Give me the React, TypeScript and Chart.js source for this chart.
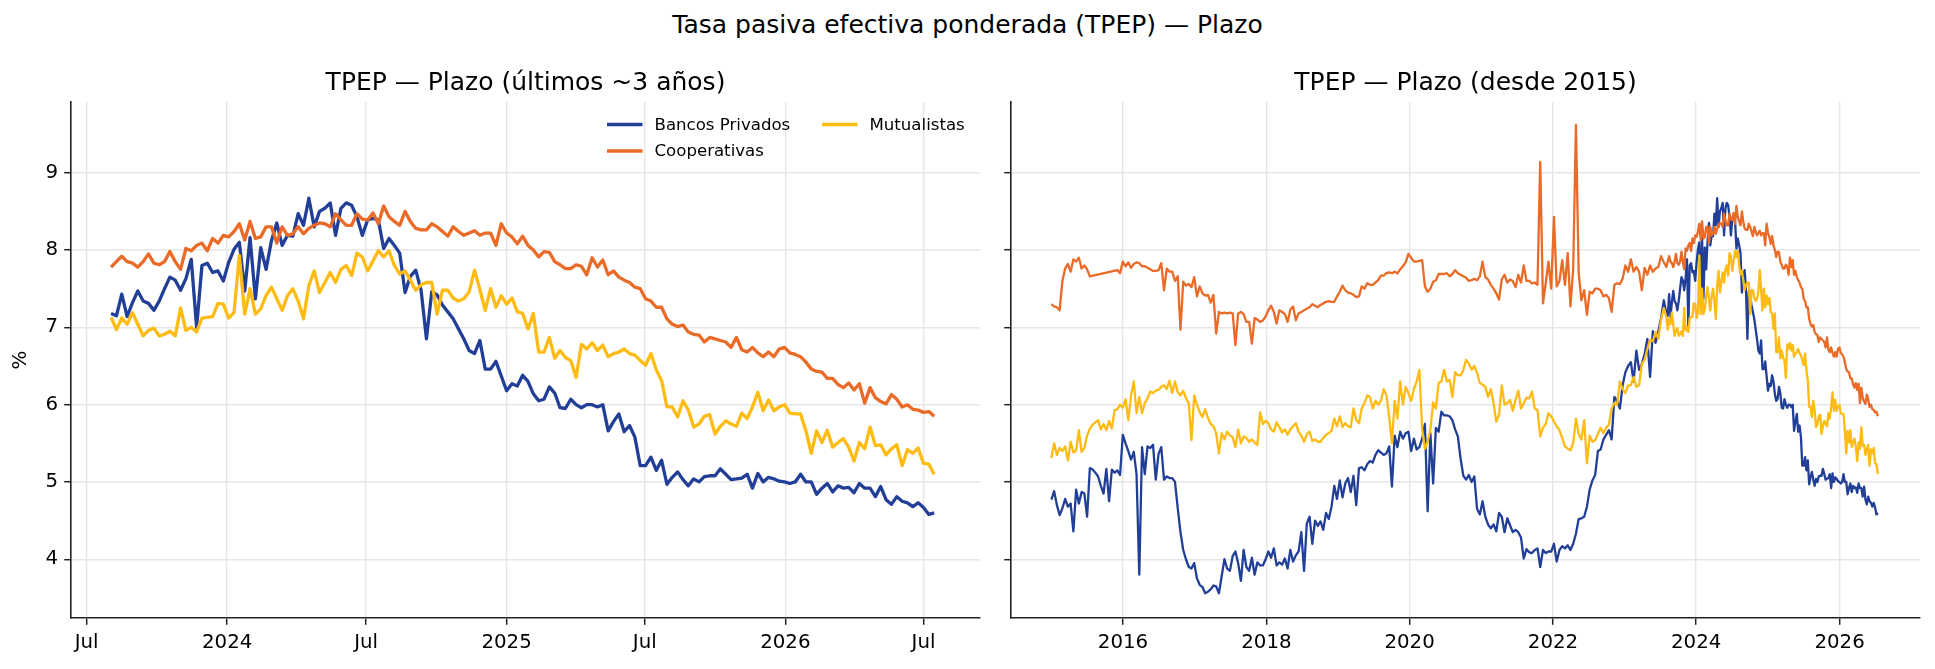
import { useEffect, useRef } from "react";
import { Chart, registerables } from "chart.js";

Chart.register(...registerables);

const FONT = '"DejaVu Sans", sans-serif';
const DAY_MS = 86400000;
const toDay = (y: number, m: number, d: number) => Date.UTC(y, m - 1, d) / DAY_MS;

// weekly readings, first one on 2023-08-02 (used in both panels)
const recentStart = toDay(2023, 8, 2);
const bancosRecent = [
  7.18, 7.15, 7.43, 7.14, 7.32, 7.47, 7.34, 7.31, 7.22, 7.34,
  7.5, 7.65, 7.61, 7.48, 7.63, 7.88, 7.0, 7.8, 7.83, 7.71,
  7.73, 7.6, 7.84, 8.01, 8.1, 7.47, 8.16, 7.37, 8.03, 7.75,
  8.12, 8.35, 8.06, 8.19, 8.18, 8.47, 8.32, 8.67, 8.3, 8.5,
  8.54, 8.61, 8.19, 8.54, 8.61, 8.58, 8.43, 8.19, 8.39, 8.41,
  8.39, 8.02, 8.15, 8.06, 7.96, 7.45, 7.66, 7.74, 7.48, 6.85,
  7.46, 7.42, 7.29, 7.2, 7.11, 6.98, 6.85, 6.7, 6.66, 6.83,
  6.46, 6.46, 6.56, 6.37, 6.18, 6.27, 6.24, 6.38, 6.3, 6.14,
  6.05, 6.07, 6.23, 6.15, 5.96, 5.95, 6.07, 6.0, 5.96, 6.0,
  6.0, 5.97, 6.0, 5.66, 5.78, 5.88, 5.65, 5.73, 5.58, 5.21,
  5.21, 5.32, 5.15, 5.28, 4.97, 5.06, 5.13, 5.03, 4.95, 5.04,
  5.0, 5.07, 5.08, 5.08, 5.17, 5.1, 5.03, 5.04, 5.05, 5.1,
  4.92, 5.11, 5.0, 5.06, 5.04, 5.01, 5.0, 4.98, 5.0, 5.1,
  5.0, 5.0, 4.84, 4.92, 4.98, 4.87, 4.95, 4.92, 4.93, 4.86,
  4.98, 4.92, 4.92, 4.81, 4.94, 4.77, 4.71, 4.81, 4.75, 4.73,
  4.68, 4.73, 4.67, 4.58, 4.6,
];
const coopRecent = [
  7.78, 7.85, 7.92, 7.85, 7.83, 7.78, 7.85, 7.95, 7.83, 7.81,
  7.85, 7.98, 7.85, 7.75, 8.02, 7.99, 8.06, 8.09, 7.99, 8.15,
  8.09, 8.19, 8.17, 8.24, 8.34, 8.13, 8.37, 8.15, 8.17, 8.3,
  8.3, 8.09, 8.3, 8.19, 8.21, 8.3, 8.21, 8.28, 8.32, 8.35,
  8.34, 8.3, 8.47, 8.39, 8.32, 8.32, 8.47, 8.4, 8.39, 8.48,
  8.34, 8.57, 8.43, 8.37, 8.32, 8.5, 8.37, 8.28, 8.26, 8.26,
  8.34, 8.3, 8.24, 8.18, 8.3, 8.24, 8.19, 8.22, 8.25, 8.19,
  8.22, 8.22, 8.06, 8.34, 8.22, 8.17, 8.08, 8.18, 8.06, 8.0,
  7.91, 7.98, 7.97, 7.85, 7.81, 7.76, 7.76, 7.81, 7.79, 7.68,
  7.9, 7.78, 7.87, 7.68, 7.73, 7.65, 7.61, 7.58, 7.52, 7.5,
  7.37, 7.34, 7.26, 7.26, 7.11, 7.04, 7.01, 7.03, 6.94, 6.91,
  6.9, 6.81, 6.87, 6.85, 6.83, 6.81, 6.74, 6.87, 6.71, 6.68,
  6.74, 6.67, 6.62, 6.68, 6.62, 6.72, 6.74, 6.67, 6.65, 6.62,
  6.55, 6.46, 6.43, 6.42, 6.34, 6.34, 6.26, 6.22, 6.28, 6.19,
  6.27, 6.02, 6.22, 6.09, 6.04, 6.01, 6.13, 6.07, 5.97, 6.0,
  5.94, 5.93, 5.9, 5.91, 5.85,
];
const mutualRecent = [
  7.13, 6.97, 7.12, 7.04, 7.19, 7.04, 6.89, 6.96, 6.99, 6.89,
  6.91, 6.95, 6.89, 7.25, 6.96, 7.0, 6.94, 7.12, 7.13, 7.14,
  7.31, 7.3, 7.12, 7.19, 7.93, 7.17, 7.5, 7.17, 7.24, 7.41,
  7.52, 7.37, 7.22, 7.41, 7.5, 7.34, 7.11, 7.54, 7.73, 7.45,
  7.58, 7.71, 7.58, 7.75, 7.8, 7.67, 7.96, 7.91, 7.73, 7.86,
  7.99, 7.91, 7.99, 7.8, 7.69, 7.73, 7.61, 7.48, 7.55, 7.58,
  7.58, 7.17, 7.48, 7.48, 7.38, 7.34, 7.37, 7.46, 7.74, 7.49,
  7.22, 7.5, 7.26, 7.41, 7.3, 7.38, 7.2, 7.18, 6.98, 7.18,
  6.68, 6.68, 6.87, 6.6, 6.7, 6.61, 6.57, 6.35, 6.78, 6.72,
  6.8, 6.7, 6.77, 6.62, 6.66, 6.68, 6.72, 6.66, 6.64, 6.57,
  6.51, 6.66, 6.45, 6.31, 5.97, 5.97, 5.84, 6.05, 5.93, 5.71,
  5.75, 5.85, 5.87, 5.62, 5.72, 5.79, 5.75, 5.72, 5.89, 5.82,
  5.97, 6.16, 5.92, 6.06, 5.92, 5.97, 6.0, 5.89, 5.88, 5.88,
  5.66, 5.37, 5.66, 5.51, 5.67, 5.45, 5.51, 5.56, 5.45, 5.27,
  5.51, 5.43, 5.71, 5.47, 5.48, 5.35, 5.43, 5.48, 5.21, 5.42,
  5.37, 5.44, 5.24, 5.23, 5.1,
];

// older history for the long panel, one reading every two weeks from 2015-01-01
const histStart = toDay(2015, 1, 1);
const bancosHist = [
  4.77, 4.88, 4.7, 4.57, 4.66, 4.78, 4.68, 4.72, 4.36, 4.9,
  4.72, 4.87, 4.85, 4.55, 5.18, 5.16, 5.12, 5.07, 4.95, 4.85,
  5.17, 4.75, 5.16, 5.12, 5.15, 5.09, 5.61, 5.5, 5.4, 5.29,
  5.39, 5.1, 3.8, 5.45, 5.1, 5.46, 5.44, 5.48, 5.03, 5.36,
  5.45, 5.03, 5.07, 5.05, 5.05, 5.0, 4.66, 4.35, 4.12, 4.0,
  3.9, 3.88, 3.95, 3.75, 3.67, 3.64, 3.56, 3.58, 3.61, 3.66,
  3.65, 3.56, 3.78, 4.0, 3.88, 3.85, 4.04, 4.1, 3.95, 3.72,
  4.12, 3.9, 3.85, 4.02, 3.8, 3.96, 3.92, 3.92, 4.0, 4.1,
  4.02, 4.14, 3.92, 3.96, 3.93, 4.01, 3.88, 4.12, 3.97, 4.05,
  4.1, 4.35, 3.85, 4.46, 4.55, 4.2, 4.5, 4.43, 4.49, 4.38,
  4.6, 4.52, 4.68, 4.95, 4.78, 5.02, 4.8, 4.98, 5.05, 4.87,
  5.08, 4.7, 5.18, 5.19, 5.15, 5.23, 5.27, 5.25, 5.35, 5.41,
  5.38, 5.35, 5.37, 5.46, 4.94, 5.6, 5.45, 5.65, 5.56, 5.63,
  5.65, 5.4, 5.56, 5.42, 5.45, 5.56, 5.75, 4.62, 5.63, 4.98,
  5.7, 5.65, 5.91, 5.86, 5.86, 5.85, 5.8, 5.68, 5.59, 5.3,
  5.08, 5.03, 5.09, 5.0, 5.07, 4.65, 4.58, 4.75, 4.55, 4.45,
  4.4, 4.45, 4.36, 4.6, 4.55, 4.35, 4.53, 4.44, 4.35, 4.38,
  4.35, 4.28, 4.01, 4.13, 4.09, 4.08, 4.12, 4.14, 3.9, 4.12,
  4.08, 4.1, 4.1, 4.2, 3.97, 4.12, 4.17, 4.14, 4.18, 4.12,
  4.2, 4.33, 4.52, 4.53, 4.55, 4.68, 4.9, 5.02, 5.09, 5.4,
  5.42, 5.55, 5.61, 5.67, 5.55, 6.1, 6.05, 5.95, 6.25, 6.42,
  6.5, 6.55, 6.3, 6.7, 6.45, 6.53, 6.65, 6.85, 6.36, 6.95,
  6.8, 6.95, 7.12, 7.35,
];
const coopHist = [
  7.3, 7.27, 7.26, 7.22, 7.6, 7.76, 7.82, 7.72, 7.88, 7.85,
  7.9, 7.76, 7.8, 7.75, 7.66, null, null, null, null, null,
  null, null, null, null, 7.74, 7.7, 7.85, 7.79, 7.84, 7.77,
  7.82, 7.84, 7.83, 7.79, 7.79, 7.77, 7.75, 7.73, 7.73, 7.74,
  7.83, 7.48, 7.76, 7.72, 7.72, 7.6, 7.66, 6.97, 7.59, 7.54,
  7.56, 7.52, 7.65, 7.4, 7.53, 7.44, 7.41, 7.42, 7.32, 7.42,
  6.92, 7.2, 7.18, 7.19, 7.18, 7.19, 7.18, 6.77, 7.18, 7.2,
  7.17, 7.07, 7.07, 6.79, 7.12, 7.1, 7.07, 7.09, 7.14, 7.22,
  7.28, 7.2, 7.05, 7.22, 7.2, 7.17, 7.07, 7.23, 7.27, 7.09,
  7.18, 7.2, 7.22, 7.24, 7.26, 7.3, 7.28, 7.26, 7.29, 7.31,
  7.33, 7.34, 7.33, 7.33, 7.4, 7.46, 7.54, 7.48, 7.45, 7.44,
  7.42, 7.39, 7.4, 7.53, 7.5, 7.57, 7.55, 7.55, 7.58, 7.61,
  7.67, 7.67, 7.7, 7.71, 7.7, 7.72, 7.7, 7.75, 7.79, 7.84,
  7.95, 7.9, 7.85, 7.85, 7.86, 7.87, 7.53, 7.46, 7.5, 7.59,
  7.61, 7.69, 7.69, 7.69, 7.7, 7.66, 7.69, 7.74, 7.7, 7.68,
  7.66, 7.64, 7.6, 7.61, 7.63, 7.61, 7.66, 7.85, 7.65, 7.62,
  7.55, 7.5, 7.44, 7.36, 7.62, 7.68, 7.58, 7.62, 7.6, 7.52,
  7.68, 7.58, 7.8, 7.6, 7.6, 7.57, 7.58, 7.55, 9.14, 7.31,
  7.57, 7.85, 7.5, 8.43, 7.53, 7.6, 7.87, 7.55, 7.96, 7.27,
  7.76, 9.62, 7.7, 7.35, 7.48, 7.16, 7.46, 7.44, 7.5, 7.5,
  7.48, 7.4, 7.42, 7.38, 7.2, 7.55, 7.57, 7.56, 7.63, 7.8,
  7.72, 7.88, 7.72, 7.78, 7.72, 7.48, 7.77, 7.68, 7.8, 7.72,
  7.76, 7.78, 7.92, 7.84,
];
const mutualHist = [
  5.31, 5.5, 5.35, 5.44, 5.4, 5.46, 5.28, 5.52, 5.38, 5.41,
  5.67, 5.39, 5.44, 5.6, 5.69, 5.74, 5.77, 5.8, 5.68, 5.75,
  5.67, 5.79, 5.69, 5.93, 5.94, 6.0, 5.96, 6.07, 5.8, 6.12,
  6.3, 5.89, 6.1, 5.89, 6.02, 6.08, 6.17, 6.15, 6.18, 6.19,
  6.23, 6.25, 6.2, 6.31, 6.15, 6.3, 6.16, 6.12, 6.18, 6.08,
  6.02, 5.54, 6.12, 6.0, 5.9, 5.84, 5.94, 5.83, 5.75, 5.72,
  5.63, 5.37, 5.63, 5.55, 5.65, 5.6, 5.58, 5.45, 5.68, 5.5,
  5.59, 5.57, 5.52, 5.55, 5.51, 5.48, 5.9, 5.75, 5.79, 5.76,
  5.68, 5.65, 5.77, 5.71, 5.64, 5.68, 5.61, 5.68, 5.72, 5.76,
  5.65, 5.6, 5.52, 5.62, 5.65, 5.53, 5.55, 5.52, 5.52, 5.57,
  5.61, 5.63, 5.66, 5.82, 5.72, 5.85, 5.71, 5.76, 5.72, 5.71,
  5.95, 5.8, 5.76, 5.95, 6.02, 6.12, 6.1, 5.95, 6.05, 6.0,
  6.05, 6.2, 6.12, 5.84, 5.5, 6.05, 5.82, 6.3, 6.0, 6.23,
  6.15, 6.05, 6.2, 6.3, 6.45, 5.68, 5.43, 5.52, 5.68, 6.03,
  5.95, 6.28, 6.3, 6.45, 6.3, 6.32, 6.1, 6.42, 6.38, 6.38,
  6.45, 6.58, 6.53, 6.45, 6.5, 6.41, 6.28, 6.26, 6.23, 6.1,
  6.2, 6.02, 5.78, 5.87, 6.25, 6.0, 6.02, 6.06, 5.92, 6.06,
  6.18, 5.95, 6.02, 6.09, 6.08, 6.17, 5.95, 5.93, 5.59, 5.7,
  5.75, 5.89, 5.85, 5.78, 5.72, 5.67, 5.57, 5.46, 5.43, 5.41,
  5.5, 5.82, 5.62, 5.55, 5.8, 5.24, 5.6, 5.52, 5.54, 5.62,
  5.7, 5.63, 5.7, 5.74, 5.95, 6.02, 6.0, 6.3, 6.2, 6.15,
  6.25, 6.25, 6.36, 6.23, 6.25, 6.53, 6.58, 6.72, 6.84, 6.82,
  6.94, 6.85, 7.1, 7.25,
];

const seriesNames = ["Bancos Privados", "Cooperativas", "Mutualistas"];
const seriesColors = ["#223f98", "#ea6a27", "#fdbb13"];

// tick labels
const leftTickDates = [[2023, 7, 1], [2024, 1, 1], [2024, 7, 1], [2025, 1, 1], [2025, 7, 1], [2026, 1, 1], [2026, 7, 1]];
const leftTickLabels = ["Jul", "2024", "Jul", "2025", "Jul", "2026", "Jul"];
const rightTickYears = [2016, 2018, 2020, 2022, 2024, 2026];
const yTicks = [4, 5, 6, 7, 8, 9];

const weekly = (vals: number[]) => vals.map((v, i) => ({ x: recentStart + 7 * i, y: v }));
const biweekly = (vals: (number | null)[]) => vals.map((v, k) => ({ x: histStart + 14 * k, y: v }));

const GRID = "#e6e6e6";
const INK = "#222222";
const TITLE_PX = 25;

function panelText(title: string, yLabel: boolean, legend: boolean, lineW: number) {
  return {
    id: "panelText",
    afterDraw(chart: any) {
      const { ctx, chartArea } = chart;
      const { left, right, top, bottom } = chartArea;
      ctx.save();
      ctx.fillStyle = "#000";
      ctx.textAlign = "center";
      ctx.textBaseline = "alphabetic";
      ctx.font = `${TITLE_PX}px ${FONT}`;
      ctx.fillText(title, (left + right) / 2, top - 12);
      if (yLabel) {
        ctx.save();
        ctx.translate(21, (top + bottom) / 2);
        ctx.rotate(-Math.PI / 2);
        ctx.font = `19.8px ${FONT}`;
        ctx.textBaseline = "middle";
        ctx.fillText("%", 0, 0);
        ctx.restore();
      }
      if (legend) {
        ctx.font = `16.6px ${FONT}`;
        ctx.textAlign = "left";
        ctx.textBaseline = "middle";
        const cols = [right - 373, right - 158];
        const slots = [[0, 0], [0, 1], [1, 0]];
        seriesNames.forEach((name, i) => {
          const x = cols[slots[i][0]];
          const y = top + 22.5 + slots[i][1] * 26.5;
          ctx.strokeStyle = seriesColors[i];
          ctx.lineWidth = lineW;
          ctx.beginPath();
          ctx.moveTo(x, y);
          ctx.lineTo(x + 35.5, y);
          ctx.stroke();
          ctx.fillStyle = "#000";
          ctx.fillText(name, x + 47.5, y + 1);
        });
      }
      ctx.restore();
    },
  };
}

function makeOptions(xMin: number, xMax: number, xTicks: number[], xLabels: string[], yw: number, padRight: number, showY: boolean) {
  const tickFont = { family: FONT, size: 19.8 };
  return {
    animation: false,
    responsive: false,
    events: [],
    layout: { padding: { top: 102, right: padRight, bottom: 0, left: 0 } },
    plugins: { legend: { display: false }, tooltip: { enabled: false }, title: { display: false } },
    scales: {
      x: {
        type: "linear",
        min: xMin,
        max: xMax,
        afterBuildTicks: (s: any) => {
          s.ticks = xTicks.map((v) => ({ value: v }));
        },
        afterFit: (s: any) => {
          s.height = 51;
        },
        ticks: {
          autoSkip: false,
          maxRotation: 0,
          padding: 6,
          color: "#000",
          font: tickFont,
          callback: (_v: any, i: number) => xLabels[i],
        },
        grid: { color: GRID, lineWidth: 1.4, tickColor: INK, tickLength: 6.8, tickWidth: 1.5 },
        border: { color: INK, width: 1.6 },
      },
      y: {
        type: "linear",
        min: 3.24,
        max: 9.915,
        afterBuildTicks: (s: any) => {
          s.ticks = yTicks.map((v) => ({ value: v }));
        },
        afterFit: (s: any) => {
          s.width = yw;
        },
        ticks: { display: showY, padding: 6, color: "#000", font: tickFont },
        grid: { color: GRID, lineWidth: 1.4, tickColor: INK, tickLength: 6.8, tickWidth: 1.5 },
        border: { color: INK, width: 1.6 },
      },
    },
  };
}

function lineSet(i: number, data: any[], width: number) {
  return {
    label: seriesNames[i],
    data,
    borderColor: seriesColors[i],
    backgroundColor: seriesColors[i],
    borderWidth: width,
    pointRadius: 0,
    tension: 0,
    spanGaps: true,
    borderJoinStyle: "round",
    order: 3 - i,
  };
}

export default function App() {
  const leftRef = useRef<HTMLCanvasElement>(null);
  const rightRef = useRef<HTMLCanvasElement>(null);

  useEffect(() => {
    if (!leftRef.current || !rightRef.current) return;

    const recents = [bancosRecent, coopRecent, mutualRecent];
    const hists = [bancosHist, coopHist, mutualHist];

    const leftBase = toDay(2023, 7, 1);
    const leftChart = new Chart(leftRef.current, {
      type: "line",
      data: { datasets: recents.map((r, i) => lineSet(i, weekly(r), 3.3)) },
      options: makeOptions(
        leftBase - 20.5,
        leftBase + 1170,
        leftTickDates.map(([y, m, d]) => toDay(y, m, d)),
        leftTickLabels,
        71,
        20,
        true
      ) as any,
      plugins: [panelText("TPEP — Plazo (últimos ~3 años)", true, true, 3.3)],
    });

    const rightBase = toDay(2016, 1, 1);
    const rightChart = new Chart(rightRef.current, {
      type: "line",
      data: {
        datasets: hists.map((h, i) => lineSet(i, [...biweekly(h), ...weekly(recents[i])], 2.3)),
      },
      options: makeOptions(
        rightBase - 571,
        rightBase + 4063,
        rightTickYears.map((y) => toDay(y, 1, 1)),
        rightTickYears.map(String),
        11,
        15,
        false
      ) as any,
      plugins: [panelText("TPEP — Plazo (desde 2015)", false, false, 2.3)],
    });

    return () => {
      leftChart.destroy();
      rightChart.destroy();
    };
  }, []);

  return (
    <div style={{ position: "absolute", left: 0, top: 0, width: 1935, height: 669, background: "#fff", fontFamily: FONT }}>
      <div
        style={{
          position: "absolute",
          left: 0,
          top: 10,
          width: 1935,
          textAlign: "center",
          fontSize: TITLE_PX,
          lineHeight: "30px",
          color: "#000",
        }}
      >
        Tasa pasiva efectiva ponderada (TPEP) — Plazo
      </div>
      <canvas ref={leftRef} width={1000} height={669} style={{ position: "absolute", left: 0, top: 0 }} />
      <canvas ref={rightRef} width={935} height={669} style={{ position: "absolute", left: 1000, top: 0 }} />
    </div>
  );
}
